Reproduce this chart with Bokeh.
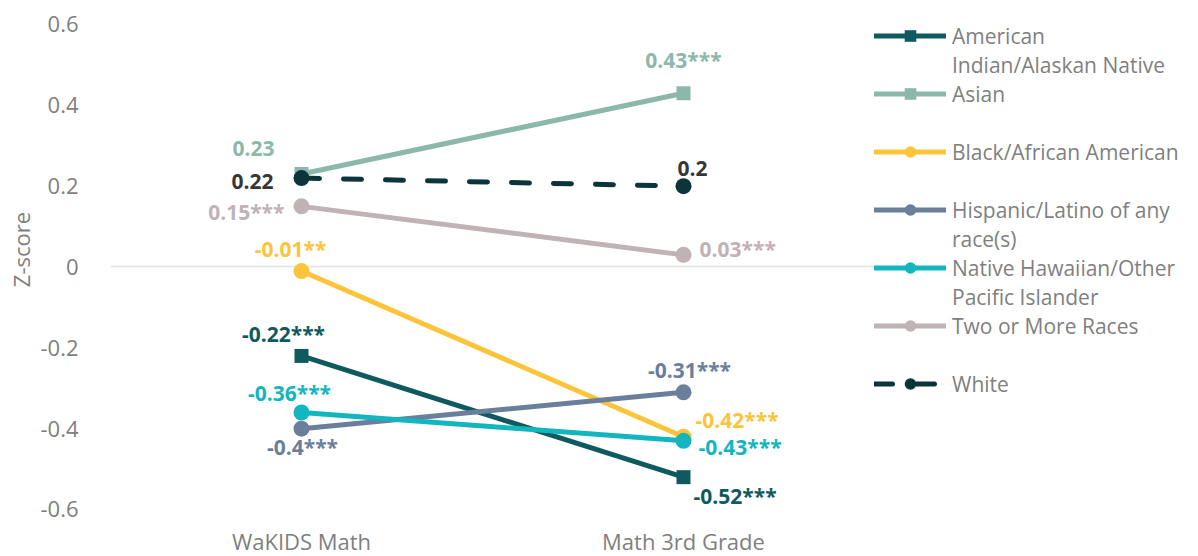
from bokeh.plotting import figure
from bokeh.models import FactorRange, Range1d, FixedTicker, Legend, LegendItem, ColumnDataSource, Title
from bokeh.embed import file_html
from bokeh.resources import INLINE
from bokeh.core.properties import value

# ---------------- data ----------------
categories = ["WaKIDS Math", "Math 3rd Grade"]
groups = ["American Indian/Alaskan Native", "Asian", "Black/African American",
          "Hispanic/Latino of any race(s)", "Native Hawaiian/Other Pacific Islander",
          "Two or More Races", "White"]
american_indian = [-0.22, -0.52]
asian = [0.23, 0.43]
black = [-0.01, -0.42]
hispanic = [-0.40, -0.31]
nhpi = [-0.36, -0.43]
two_or_more = [0.15, 0.03]
white = [0.22, 0.20]
stars_wakids = ["***", "", "**", "***", "***", "***", ""]
stars_math3 = ["***", "***", "***", "***", "***", "***", ""]
y_ticks = [-0.6, -0.4, -0.2, 0.0, 0.2, 0.4, 0.6]
y_tick_labels = ["-0.6", "-0.4", "-0.2", "0", "0.2", "0.4", "0.6"]
y_title = "Z-score"
legend_lines = [["American", "Indian/Alaskan Native"], ["Asian", " "],
                ["Black/African American", " "], ["Hispanic/Latino of any", "race(s)"],
                ["Native Hawaiian/Other", "Pacific Islander"], ["Two or More Races", " "],
                ["White"]]

series = [american_indian, asian, black, hispanic, nhpi, two_or_more, white]

# ---------------- styles ----------------
colors = ["#0f5a5e", "#8cb8ab", "#fbc43b", "#6a7f9b", "#13b5bf", "#c0b2b5", "#0b343b"]
label_colors = ["#0f5a5e", "#8cb8ab", "#fbc43b", "#6a7f9b", "#13b5bf", "#c0b2b5", "#363636"]
markers = ["square", "square", "circle", "circle", "circle", "circle", "circle"]
marker_sizes = [14, 14, 16, 16, 16, 16, 16]
dashes = ["solid"] * 6 + ["18 24"]
off_wakids = [(-18, -22, "center"), (-48, -26, "center"), (-11, -22, "center"),
              (1, 18, "center"), (-12, -19, "center"), (-17, 6, "right"), (-28, 3, "right")]
off_math3 = [(10, 19, "left"), (0, -33, "center"), (12, -17, "left"),
             (6, -22, "center"), (15, 6, "left"), (16, -6, "left"), (9, -18, "center")]
title_lift = "\u00a0" * 7   # non-breaking padding that lifts the centred y title

FONT = "Open Sans"
GREY = "#7f7f7f"

p = figure(x_range=FactorRange(*categories), y_range=Range1d(-0.6198, 0.6074),
           frame_width=764, frame_height=496, output_backend="svg", toolbar_location=None,
           min_border_left=110, min_border_right=0, min_border_top=21, min_border_bottom=22)
p.outline_line_color = None
p.background_fill_color = "white"
p.xgrid.visible = False
p.ygrid.ticker = FixedTicker(ticks=[0])
p.ygrid.grid_line_color = "#e3e3e3"
p.ygrid.grid_line_width = 1.5

overrides = {}
for t, l in zip(y_ticks, y_tick_labels):
    overrides[t] = l
p.yaxis.ticker = FixedTicker(ticks=y_ticks)
p.yaxis.major_label_overrides = overrides
p.yaxis.major_label_standoff = 26
p.xaxis.major_label_standoff = 2
for ax in (p.xaxis[0], p.yaxis[0]):
    ax.axis_line_color = None
    ax.major_tick_line_color = None
    ax.minor_tick_line_color = None
    ax.major_label_text_font = FONT
    ax.major_label_text_font_size = "22px"
    ax.major_label_text_color = GREY

ytitle = Title(text=title_lift + y_title, align="center", standoff=4,
               text_font=FONT, text_font_size="22px", text_font_style="normal",
               text_color=GREY)
p.add_layout(ytitle, "left")

renderers = []
for i, vals in enumerate(series):
    src = ColumnDataSource(dict(x=categories, y=vals))
    lr = p.line("x", "y", source=src, line_color=colors[i], line_width=5,
                line_dash=dashes[i], line_cap="round")
    sr = p.scatter("x", "y", source=src, marker=markers[i], size=marker_sizes[i],
                   fill_color=colors[i], line_color=colors[i], line_width=0)
    renderers.append([lr, sr])

lab = {a: dict(x=[], y=[], text=[], xo=[], yo=[], color=[]) for a in ("left", "center", "right")}
for i, vals in enumerate(series):
    for j, (stars, offs) in enumerate(((stars_wakids, off_wakids), (stars_math3, off_math3))):
        xo, yo, al = offs[i]
        d = lab[al]
        d["x"].append(categories[j])
        d["y"].append(vals[j])
        d["text"].append(f"{vals[j]:g}{stars[i]}")
        d["xo"].append(xo)
        d["yo"].append(yo)
        d["color"].append(label_colors[i])
for al, d in lab.items():
    if d["x"]:
        p.text("x", "y", text="text", x_offset="xo", y_offset="yo", text_color="color",
               source=ColumnDataSource(d), text_align=al, text_baseline="middle",
               text_font=value(FONT), text_font_style="bold", text_font_size="21px")

dummy = p.line(x=[], y=[], line_alpha=0)
items = []
for i, lines in enumerate(legend_lines):
    items.append(LegendItem(label=lines[0], renderers=renderers[i]))
    for extra in lines[1:]:
        items.append(LegendItem(label=extra, renderers=[dummy]))
legend = Legend(items=items, location="top_left", orientation="vertical",
                glyph_width=72, glyph_height=29, label_height=29, spacing=0,
                padding=0, margin=0, label_standoff=6,
                label_text_font=FONT, label_text_font_size="21px", label_text_color=GREY,
                border_line_alpha=0, background_fill_alpha=0)
p.add_layout(legend, "right")

open("out.html", "w").write(file_html(p, INLINE))
